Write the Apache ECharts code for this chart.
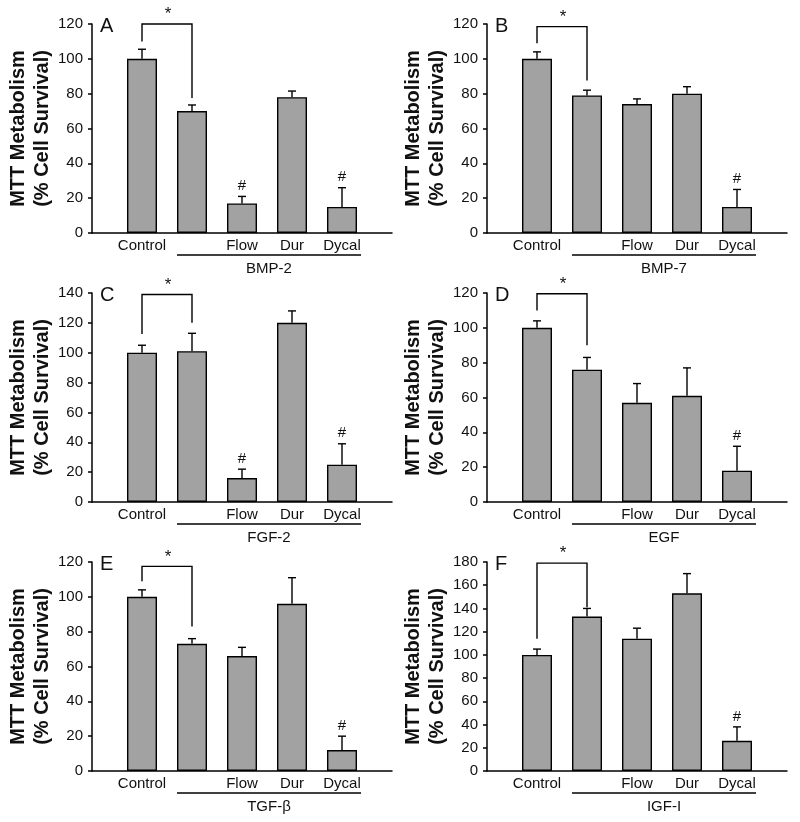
<!DOCTYPE html>
<html>
<head>
<meta charset="utf-8">
<script src="https://cdn.jsdelivr.net/npm/echarts@6/dist/echarts.min.js"></script>
<style>
html,body{margin:0;padding:0;background:#fff;}
#chart{width:800px;height:822px;}
</style>
</head>
<body>
<div id="chart"></div>
<script>
// ---- Data ----
const categories = ['Control', '', 'Flow', 'Dur', 'Dycal'];
const groupNames = ['BMP-2', 'BMP-7', 'FGF-2', 'EGF', 'TGF-\u03b2', 'IGF-I'];
const panelLetters = ['A', 'B', 'C', 'D', 'E', 'F'];
const yMaxes = [120, 120, 140, 120, 120, 180];
const yStep = 20;

const meansBMP2 = [100, 70, 17, 78, 15];
const errBMP2   = [5.5, 3.5, 4, 3.5, 11];
const meansBMP7 = [100, 79, 74, 80, 15];
const errBMP7   = [4, 3, 3, 4, 10];
const meansFGF2 = [100, 101, 16, 120, 25];
const errFGF2   = [5, 12, 6, 8, 14];
const meansEGF  = [100, 76, 57, 61, 18];
const errEGF    = [4, 7, 11, 16, 14];
const meansTGFb = [100, 73, 66, 96, 12];
const errTGFb   = [4, 3, 5, 15, 8];
const meansIGF1 = [100, 133, 114, 153, 26];
const errIGF1   = [5, 7, 9, 17, 12];

// '#' significance marks (1 = shown)
const hashBMP2 = [0, 0, 1, 0, 1];
const hashBMP7 = [0, 0, 0, 0, 1];
const hashFGF2 = [0, 0, 1, 0, 1];
const hashEGF  = [0, 0, 0, 0, 1];
const hashTGFb = [0, 0, 0, 0, 1];
const hashIGF1 = [0, 0, 0, 0, 1];

// '*' bracket: [top, left leg end, right leg end] in data units
const bracketTop   = [120, 118.5, 139, 119.6, 117.5, 179];
const bracketLeft  = [110, 109, 112.5, 110, 109, 114];
const bracketRight = [77.5, 87.6, 120, 90, 83, 141];

const means = [meansBMP2, meansBMP7, meansFGF2, meansEGF, meansTGFb, meansIGF1];
const errs = [errBMP2, errBMP7, errFGF2, errEGF, errTGFb, errIGF1];
const hashes = [hashBMP2, hashBMP7, hashFGF2, hashEGF, hashTGFb, hashIGF1];

// ---- Layout ----
const colLeft = [92, 487];
const rowTop = [24, 293, 562];
const gridW = 300, gridH = 209;
const FONT = '"Liberation Sans", Arial, Helvetica, sans-serif';
const INK = '#111';

const grids = [], xAxes = [], yAxes = [], series = [];
for (let p = 0; p < 6; p++) {
  const r = Math.floor(p / 2), c = p % 2;
  grids.push({left: colLeft[c], top: rowTop[r], width: gridW, height: gridH});
  xAxes.push({
    gridIndex: p, type: 'value', min: 0, max: 6, interval: 1,
    axisLine: {lineStyle: {color: '#000', width: 1.5}},
    axisTick: {show: false}, splitLine: {show: false},
    axisLabel: {
      color: INK, fontSize: 15, fontFamily: FONT, margin: 5,
      formatter: v => (v >= 1 && v <= categories.length) ? categories[v - 1] : ''
    }
  });
  yAxes.push({
    gridIndex: p, type: 'value', min: 0, max: yMaxes[p], interval: yStep,
    axisLine: {show: true, lineStyle: {color: '#000', width: 1.5}},
    axisTick: {show: true, inside: false, length: 4, lineStyle: {color: '#000', width: 1.5}},
    splitLine: {show: false},
    axisLabel: {color: INK, fontSize: 15, fontFamily: FONT, margin: 9},
    name: 'MTT Metabolism\n(% Cell Survival)',
    nameLocation: 'middle', nameRotate: 90, nameGap: 36,
    nameTextStyle: {color: INK, fontSize: 20, fontWeight: 'bold', fontFamily: FONT, lineHeight: 24}
  });

  const xs = categories.map((_, i) => i + 1);
  series.push({
    type: 'bar', xAxisIndex: p, yAxisIndex: p, barWidth: 30, silent: true,
    data: xs.map((x, i) => [x, means[p][i]]),
    itemStyle: {color: '#a2a2a2', borderColor: '#000', borderWidth: 1.4}
  });
  // error bars + '#'
  series.push({
    type: 'custom', xAxisIndex: p, yAxisIndex: p, silent: true, z: 3,
    encode: {x: 0, y: 1},
    data: xs.map((x, i) => [x, means[p][i], errs[p][i], hashes[p][i]]),
    renderItem: (params, api) => {
      const x = api.value(0), m = api.value(1), e = api.value(2), h = api.value(3);
      const b = api.coord([x, m]), t = api.coord([x, m + e]);
      const st = {stroke: '#000', lineWidth: 1.4};
      const ch = [
        {type: 'line', shape: {x1: b[0], y1: b[1], x2: t[0], y2: t[1]}, style: st},
        {type: 'line', shape: {x1: t[0] - 4, y1: t[1], x2: t[0] + 4, y2: t[1]}, style: st}
      ];
      if (h) ch.push({type: 'text', x: t[0], y: t[1] - 3,
        style: {text: '#', fill: INK, font: '15px ' + FONT, align: 'center', verticalAlign: 'bottom'}});
      return {type: 'group', children: ch};
    }
  });
  // bracket, star, group underline/label, panel letter
  series.push({
    type: 'custom', xAxisIndex: p, yAxisIndex: p, silent: true, z: 4, clip: false,
    encode: {x: 0, y: 1},
    data: [[1, 0]],
    renderItem: (params, api) => {
      const st = {stroke: '#000', lineWidth: 1.4, fill: null};
      const a = api.coord([1, bracketLeft[p]]);
      const b = api.coord([1, bracketTop[p]]);
      const c2 = api.coord([2, bracketTop[p]]);
      const d = api.coord([2, bracketRight[p]]);
      const o2 = api.coord([2, 0]), o5 = api.coord([5, 0]);
      const y0 = o2[1];
      const corner = api.coord([0, yMaxes[p]]);
      return {type: 'group', children: [
        {type: 'polyline', shape: {points: [a, b, c2, d]}, style: st},
        {type: 'text', x: (b[0] + c2[0]) / 2 + 1, y: b[1] - 1,
          style: {text: '*', fill: INK, font: '17px ' + FONT, align: 'center', verticalAlign: 'bottom'}},
        {type: 'line', shape: {x1: o2[0] - 15, y1: y0 + 22, x2: o5[0] + 19, y2: y0 + 22}, style: st},
        {type: 'text', x: (o2[0] - 15 + o5[0] + 19) / 2, y: y0 + 36,
          style: {text: groupNames[p], fill: INK, font: '15px ' + FONT, align: 'center', verticalAlign: 'middle'}},
        {type: 'text', x: corner[0] + 8, y: corner[1] + 2,
          style: {text: panelLetters[p], fill: INK, font: '20px ' + FONT, align: 'left', verticalAlign: 'middle'}}
      ]};
    }
  });
}

const chart = echarts.init(document.getElementById('chart'), null, {renderer: 'canvas'});
chart.setOption({
  animation: false,
  backgroundColor: '#fff',
  grid: grids, xAxis: xAxes, yAxis: yAxes, series: series
});
</script>
</body>
</html>
